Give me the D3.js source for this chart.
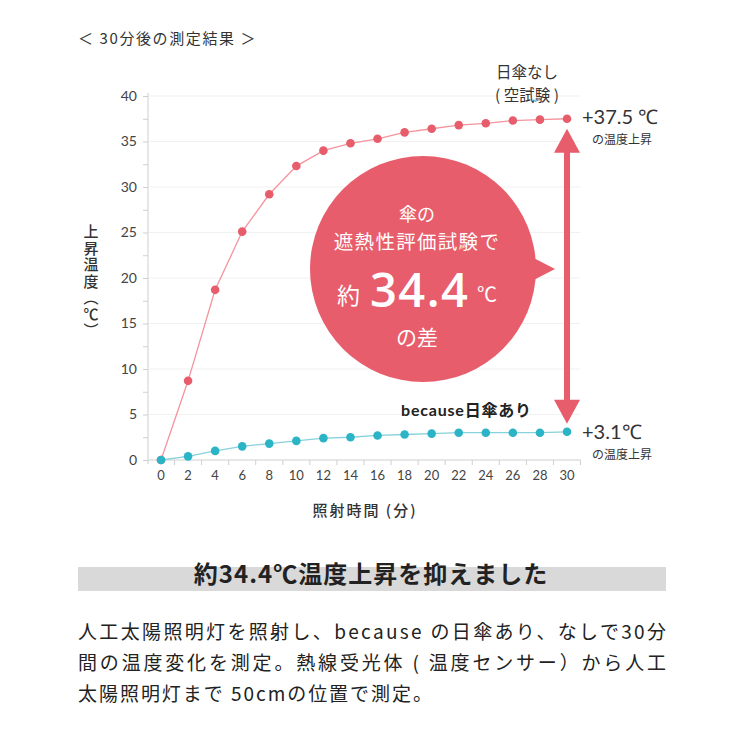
<!DOCTYPE html>
<html><head><meta charset="utf-8">
<script src="https://cdn.jsdelivr.net/npm/d3@7"></script>
<style>
html,body{margin:0;padding:0;background:#fff;}
svg{display:block;font-family:Lato,"Noto Sans CJK JP",sans-serif;}
</style></head>
<body>
<svg id="c" width="740" height="740"></svg>
<script>
const times = [0,2,4,6,8,10,12,14,16,18,20,22,24,26,28,30];
const noUmbrella = [0,8.7,18.7,25.1,29.2,32.3,34.0,34.8,35.3,36.0,36.4,36.8,37.0,37.3,37.4,37.5];
const withUmbrella = [0,0.4,1.0,1.5,1.8,2.1,2.4,2.5,2.7,2.8,2.9,3.0,3.0,3.0,3.0,3.1];
const yTicks = [0,5,10,15,20,25,30,35,40];
const xTickLabels = times;
const title = "＜ 30分後の測定結果 ＞";
const yTitle = "上昇温度（℃）";
const xTitle = "照射時間 (分)";
const diffValue = "34.4";
const bannerText = "約34.4℃温度上昇を抑えました";
const bodyLines = [
  "人工太陽照明灯を照射し、because の日傘あり、なしで30分",
  "間の温度変化を測定。熱線受光体 ( 温度センサー）から人工",
  "太陽照明灯まで 50cmの位置で測定。"
];

const RED = "#e85d6c", RED_LINE = "#f4949d", CYAN = "#2bb4c6", CYAN_LINE = "#86d2dc", TXT = "#333";
const svg = d3.select("#c");
const x = d3.scaleLinear().domain([0,30]).range([161,567]);
const y = d3.scaleLinear().domain([0,40]).range([460,96]);
const bf = "'Noto Sans CJK JP',sans-serif";

// title
svg.append("text").attr("x",78).attr("y",44).attr("font-size",15).attr("fill",TXT)
  .attr("letter-spacing",1.6).attr("font-family",bf).text(title);

// gridlines
svg.append("g").selectAll("line").data(yTicks.filter(d=>d>0)).join("line")
  .attr("x1",149).attr("x2",580).attr("y1",d=>y(d)).attr("y2",d=>y(d))
  .attr("stroke","#f1f1f1").attr("stroke-width",1);

// y axis
const yAxis = d3.axisLeft(y).tickValues(d3.range(0,40.01,2.5)).tickSize(5).tickPadding(6)
  .tickFormat(d => d%5===0 ? d : "");
const gy = svg.append("g").attr("transform","translate(148,0)").call(yAxis);
gy.select(".domain").attr("stroke","#cfcfcf").attr("d","M0,"+(y(40)-3)+"V"+(y(0)+4));
gy.selectAll(".tick line").attr("stroke","#cfcfcf");
gy.selectAll(".tick text").attr("font-size",14).attr("fill","#444").attr("font-family","Lato,sans-serif");

// x axis: ticks at odd minutes, labels at even
const gx = svg.append("g").attr("transform","translate(0,460)");
gx.append("line").attr("x1",148).attr("x2",x(31)).attr("y1",0).attr("y2",0).attr("stroke","#cfcfcf");
gx.selectAll("line.t").data(d3.range(1,32,2)).join("line").attr("class","t")
  .attr("x1",d=>x(d)).attr("x2",d=>x(d)).attr("y1",0).attr("y2",5).attr("stroke","#cfcfcf");
gx.selectAll("text").data(xTickLabels).join("text")
  .attr("x",d=>x(d)).attr("y",20).attr("text-anchor","middle").attr("font-size",13)
  .attr("fill","#444").attr("font-family","Lato,sans-serif").text(d=>d);

// axis titles
svg.append("text").attr("x",91).attr("y",224)
  .attr("writing-mode","vertical-rl").attr("style","writing-mode:vertical-rl")
  .attr("font-size",15).attr("font-weight",500).attr("fill",TXT).attr("letter-spacing",1.5)
  .attr("font-family",bf).text(yTitle);
svg.append("text").attr("x",365).attr("y",516).attr("text-anchor","middle")
  .attr("font-size",15).attr("font-weight",500).attr("fill",TXT).attr("letter-spacing",2)
  .attr("font-family",bf).text(xTitle);

// lines
const line = d3.line().x((d,i)=>x(times[i])).y(d=>y(d));
svg.append("path").attr("d",line(noUmbrella)).attr("fill","none").attr("stroke",RED_LINE).attr("stroke-width",1.3);
svg.append("path").attr("d",line(withUmbrella)).attr("fill","none").attr("stroke",CYAN_LINE).attr("stroke-width",1.3);
svg.append("g").selectAll("circle").data(noUmbrella).join("circle")
  .attr("cx",(d,i)=>x(times[i])).attr("cy",d=>y(d)).attr("r",4.3).attr("fill",RED);
svg.append("g").selectAll("circle").data(withUmbrella).join("circle")
  .attr("cx",(d,i)=>x(times[i])).attr("cy",d=>y(d)).attr("r",4.3).attr("fill",CYAN);

// double arrow between end values
const ax = x(30), yTop = y(noUmbrella[15]) + 10, yBot = y(withUmbrella[15]) - 8;
const hw = 13, hh = 24, sw = 3;
svg.append("path").attr("fill",RED).attr("d",
  `M${ax},${yTop} L${ax+hw},${yTop+hh} L${ax+sw},${yTop+hh} L${ax+sw},${yBot-hh} L${ax+hw},${yBot-hh} L${ax},${yBot}
   L${ax-hw},${yBot-hh} L${ax-sw},${yBot-hh} L${ax-sw},${yTop+hh} L${ax-hw},${yTop+hh} Z`);

// speech bubble
const cx = 423, cy = 269, r = 113;
svg.append("path").attr("fill",RED).attr("d",`M${cx+r-12},${cy-16} L${cx+r+19},${cy} L${cx+r-12},${cy+16} Z`);
svg.append("circle").attr("cx",cx).attr("cy",cy).attr("r",r).attr("fill",RED);
svg.append("text").attr("x",cx-6).attr("y",221).attr("text-anchor","middle").attr("font-size",18)
  .attr("fill","#fff").attr("font-family",bf).text("傘の");
svg.append("text").attr("x",cx-6).attr("y",249).attr("text-anchor","middle").attr("font-size",19.5)
  .attr("fill","#fff").attr("font-family",bf).attr("letter-spacing",1.3).text("遮熱性評価試験で");
svg.append("text").attr("x",337).attr("y",304).attr("font-size",23).attr("fill","#fff").attr("font-family",bf).text("約");
svg.append("text").attr("x",370).attr("y",307).attr("font-size",47).attr("font-weight",600)
  .attr("fill","#fff").attr("font-family","'Open Sans',Lato,sans-serif").attr("letter-spacing",1.5).text(diffValue);
svg.append("text").attr("x",477).attr("y",302).attr("font-size",20).attr("fill","#fff").attr("font-family",bf).text("℃");
svg.append("text").attr("x",cx-6).attr("y",345).attr("text-anchor","middle").attr("font-size",21)
  .attr("fill","#fff").attr("font-family",bf).text("の差");

// series labels
svg.append("text").attr("x",527).attr("y",78).attr("text-anchor","middle").attr("font-size",15.5)
  .attr("fill",TXT).attr("font-family",bf).text("日傘なし");
svg.append("text").attr("x",527).attr("y",101).attr("text-anchor","middle").attr("font-size",15.5)
  .attr("fill",TXT).attr("font-family",bf).text("( 空試験 )");
svg.append("text").attr("x",582).attr("y",124).attr("font-size",20).attr("fill",TXT)
  .attr("font-family","Lato,sans-serif").text("+37.5 ℃");
svg.append("text").attr("x",592).attr("y",144).attr("font-size",12).attr("fill",TXT).attr("font-family",bf).text("の温度上昇");
svg.append("text").attr("x",401).attr("y",416).attr("font-size",16).attr("font-weight",700).attr("fill","#222")
  .attr("letter-spacing",0.8)
  .attr("font-family","Lato,'Noto Sans CJK JP',sans-serif").text("because日傘あり");
svg.append("text").attr("x",582).attr("y",439).attr("font-size",20).attr("fill",TXT)
  .attr("font-family","Lato,sans-serif").text("+3.1℃");
svg.append("text").attr("x",592).attr("y",459).attr("font-size",12).attr("fill",TXT).attr("font-family",bf).text("の温度上昇");

// banner
svg.append("rect").attr("x",78).attr("y",567).attr("width",588).attr("height",24).attr("fill","#d9d9d9");
svg.append("text").attr("x",371).attr("y",583).attr("text-anchor","middle").attr("font-size",24)
  .attr("font-weight",700).attr("fill","#222").attr("font-family",bf).attr("letter-spacing",1).text(bannerText);

// body
const lens = [588, 588, 354];
svg.append("g").selectAll("text").data(bodyLines).join("text")
  .attr("x",78).attr("y",(d,i)=>639+i*31).attr("font-size",19).attr("fill","#222")
  .attr("font-family",bf).attr("textLength",(d,i)=>lens[i]).attr("lengthAdjust","spacing").text(d=>d);
</script>
</body></html>
